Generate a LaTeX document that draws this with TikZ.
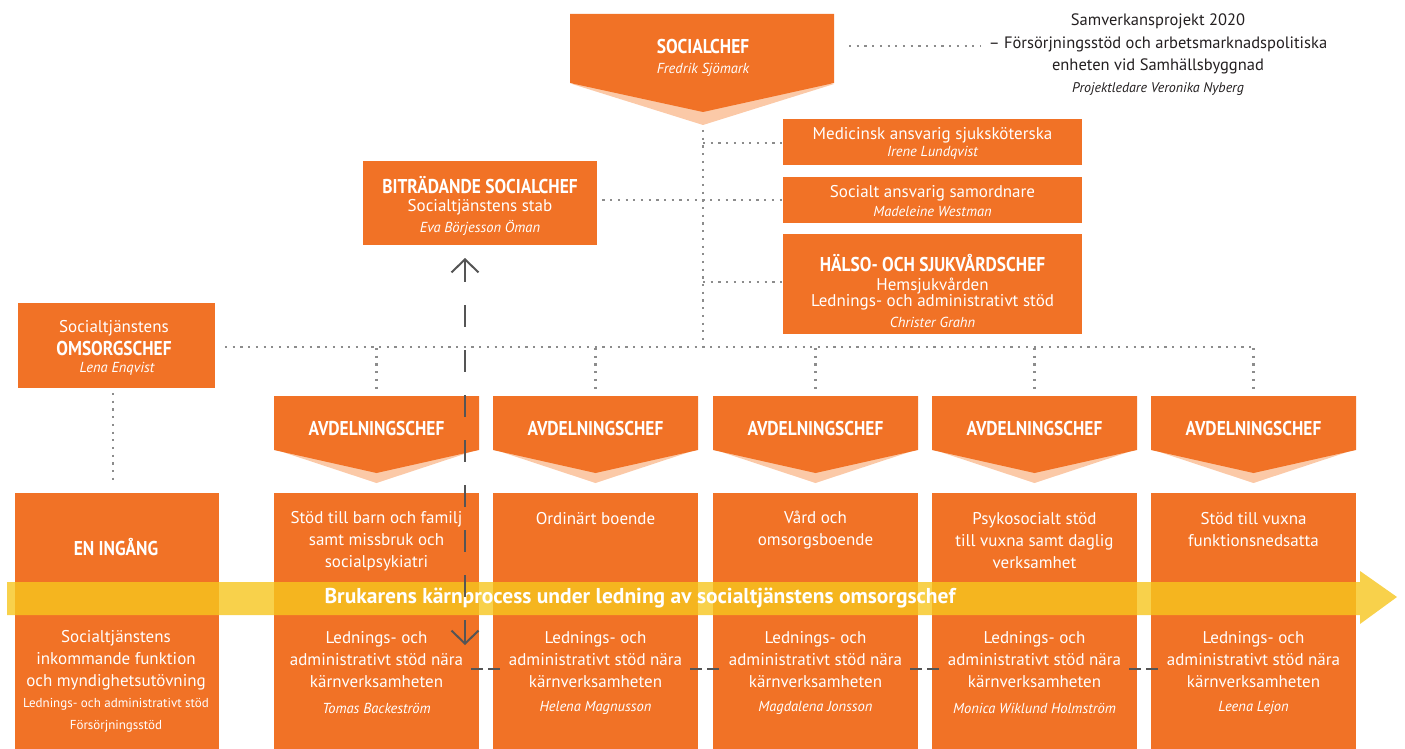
\documentclass[tikz,border=0pt]{standalone}
\usepackage{fontspec}
\setmainfont{PT Sans}
\newfontfamily\hfont[FakeStretch=0.87]{PT Sans}
\usetikzlibrary{arrows.meta}
\definecolor{org}{RGB}{241,114,38}
\definecolor{peach}{RGB}{251,201,167}
\definecolor{dotg}{RGB}{140,140,140}
\definecolor{dashg}{RGB}{85,85,85}
\definecolor{bandc}{RGB}{246,198,30}
\definecolor{ink}{RGB}{35,31,32}
\begin{document}
\begin{tikzpicture}[x=1pt,y=-1pt,
  box/.style={fill=org, draw=none, inner sep=0pt, anchor=north west},
  txt/.style={text=white, font=\fontsize{17}{22}\selectfont, align=center, inner sep=0pt},
  head/.style={text=white, font=\hfont\bfseries\fontsize{20}{22}\selectfont, inner sep=0pt},
  nm/.style={text=white, font=\itshape\fontsize{14.5}{18}\selectfont, inner sep=0pt},
  smalltxt/.style={text=white, font=\fontsize{13}{22}\selectfont, align=center, inner sep=0pt},
  rtxt/.style={text=ink, font=\fontsize{16.5}{22.5}\selectfont, align=center, inner sep=0pt},
  dotl/.style={dotg, line width=2.2pt, dash pattern=on 2.2pt off 5.5pt},
  dashl/.style={dashg, line width=2pt},
  bandtxt/.style={text=white, font=\bfseries\fontsize{21.5}{22}\selectfont, inner sep=0pt}]
\useasboundingbox (0,0) rectangle (1405,749);

% ---------- dotted connectors (behind) ----------
\coordinate (socB) at (703,130);
\coordinate (hub) at (703,347);
\coordinate (hl) at (225,347);
\coordinate (hr) at (1253,347);
\draw[dotl] (socB) -- (hub);
\draw[dotl] (hl) -- (hr);

% ---------- SOCIALCHEF ----------
\fill[peach] (572,84) -- (703,125) -- (834,84) -- cycle;
\fill[org] (570,14) -- (834,14) -- (834,83) -- (703,112) -- (570,83) -- cycle;
\node[head] (socT) at (703,47) {SOCIALCHEF};
\node[nm] (socN) at (703,70) {Fredrik Sjömark};

% ---------- project text ----------
\node[rtxt] (proj) at (1158,44) {Samverkansprojekt 2020\\– Försörjningsstöd och arbetsmarknadspolitiska\\enheten vid Samhällsbyggnad};
\node[text=ink, font=\itshape\fontsize{14}{18}\selectfont, inner sep=0pt] (projN) at (1158,89) {Projektledare Veronika Nyberg};
\coordinate (projL) at (980,46);
\coordinate (socR) at (849,46);
\draw[dotl] (socR) -- (projL);

% ---------- staff boxes ----------
\node[box, minimum width=234pt, minimum height=84pt] (bit) at (363,161) {};
\node[head] (bitT) at (480,185) {BITRÄDANDE SOCIALCHEF};
\node[txt] (bitS) at (480,207) {Socialtjänstens stab};
\node[nm] (bitN) at (480,228) {Eva Börjesson Öman};

\node[box, minimum width=299pt, minimum height=46pt] (med) at (783,119) {};
\node[txt] (medT) at (932.5,135) {Medicinsk ansvarig sjuksköterska};
\node[nm] (medN) at (932.5,153) {Irene Lundqvist};

\node[box, minimum width=299pt, minimum height=46pt] (sam) at (783,177) {};
\node[txt] (samT) at (932.5,193) {Socialt ansvarig samordnare};
\node[nm] (samN) at (932.5,211) {Madeleine Westman};

\node[box, minimum width=299pt, minimum height=100pt] (hal) at (783,234) {};
\node[head] (halT) at (932.5,263) {HÄLSO- OCH SJUKVÅRDSCHEF};
\node[txt] (halS1) at (932.5,286) {Hemsjukvården};
\node[txt] (halS2) at (932.5,302) {Lednings- och administrativt stöd};
\node[nm] (halN) at (932.5,322) {Christer Grahn};

\draw[dotl] (socB |- 0,143) -- (med.west |- 0,143);
\draw[dotl] ([xshift=5pt]bit.east |- sam.west) -- (sam.west);
\draw[dotl] (socB |- 0,282) -- (hal.west |- 0,282);

% ---------- omsorgschef ----------
\node[box, minimum width=197pt, minimum height=85pt] (oms) at (18,303) {};
\node[txt] (omsT1) at (114,328) {Socialtjänstens};
\node[head] (omsT2) at (114,348) {OMSORGSCHEF};
\node[nm] (omsN) at (117,369) {Lena Enqvist};
\coordinate (omsD1) at (113,393);
\coordinate (omsD2) at (113,483);
\draw[dotl] (omsD1) -- (omsD2);

% ---------- avdelningschefer ----------
\foreach \c/\i in {376.5/1,595.5/2,815.5/3,1034.5/4,1253.5/5}{
  \draw[dotl] (\c,348) -- (\c,393);
  \fill[peach] (\c-100,450) -- (\c,483) -- (\c+100,450) -- cycle;
  \fill[org] (\c-102.5,396) -- (\c+102.5,396) -- (\c+102.5,450) -- (\c,473) -- (\c-102.5,450) -- cycle;
  \node[head] (avd\i) at (\c,428) {AVDELNINGSCHEF};
  \node[box, minimum width=205pt, minimum height=262pt] (b\i) at (\c-102.5,493) {};
}
\node[box, minimum width=204pt, minimum height=262pt] (b0) at (15,493) {};

% ---------- bottom texts ----------
\node[head] (b0T) at (116,547) {EN INGÅNG};
\node[txt] (b0B) at (116,660) {Socialtjänstens\\inkommande funktion\\och myndighetsutövning};
\node[smalltxt] (b0C) at (116,715) {Lednings- och administrativt stöd\\Försörjningsstöd};

\node[txt] (b1T) at (376.5,541) {Stöd till barn och familj\\samt missbruk och\\socialpsykiatri};
\node[txt] (b2T) at (595.5,519) {Ordinärt boende};
\node[txt] (b3T) at (815.5,530) {Vård och\\omsorgsboende};
\node[txt] (b4T) at (1034.5,541) {Psykosocialt stöd\\till vuxna samt daglig\\verksamhet};
\node[txt] (b5T) at (1253.5,530) {Stöd till vuxna\\funktionsnedsatta};

\foreach \c/\i/\n in {376.5/1/Tomas Backeström,595.5/2/Helena Magnusson,815.5/3/Magdalena Jonsson,1034.5/4/Monica Wiklund Holmström,1253.5/5/Leena Lejon}{
  \node[txt] (b\i B) at (\c,660) {Lednings- och\\administrativt stöd nära\\kärnverksamheten};
  \node[nm] (b\i N) at (\c,708) {\n};
}

% ---------- band arrow ----------
\fill[bandc, fill opacity=0.8] (7,582) -- (1360,582) -- (1360,571) -- (1397,597) -- (1360,624) -- (1360,615) -- (7,615) -- cycle;
\node[bandtxt] (band) at (640,598) {Brukarens kärnprocess under ledning av socialtjänstens omsorgschef};

% ---------- dashed management line ----------
\coordinate (dTop) at (465,258);
\coordinate (dBot) at (465,645);
\draw[dashl, dash pattern=on 22pt off 23pt, {Straight Barb[length=13pt,width=27pt]}-{Straight Barb[length=13pt,width=27pt]}] (dTop) -- (dBot);
\foreach \g in {479,698,918,1137}{
  \draw[dashl, dash pattern=on 12pt off 5pt] (\g-8,669) -- (\g+21,669);
}
\end{tikzpicture}
\end{document}
